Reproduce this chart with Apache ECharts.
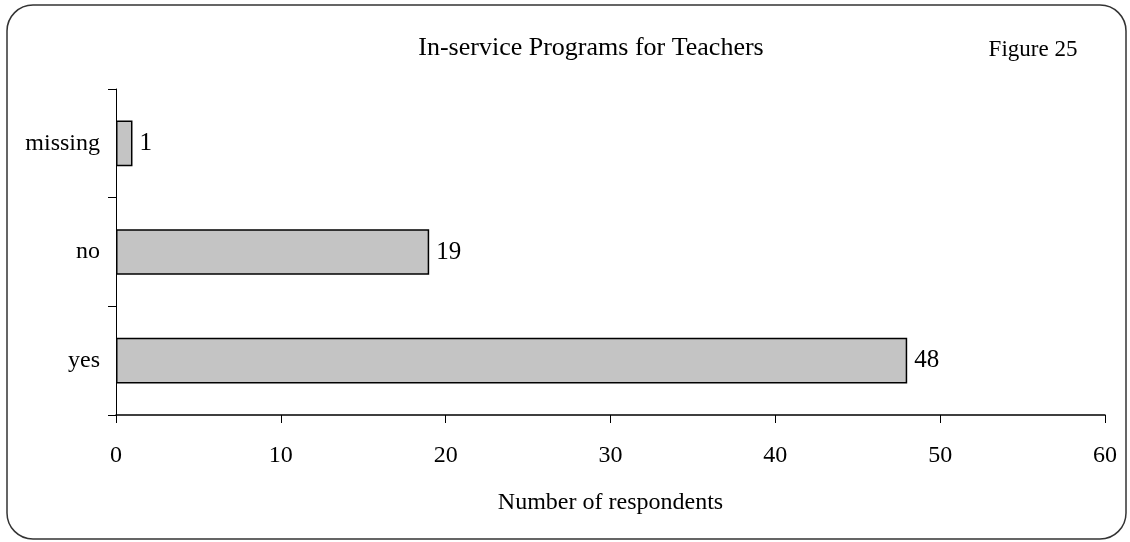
<!DOCTYPE html>
<html>
<head>
<meta charset="utf-8">
<script src="https://cdn.jsdelivr.net/npm/echarts@6/dist/echarts.min.js"></script>
<style>
    html, body { margin: 0; padding: 0; background: #fff; }
    #chart { width: 1130px; height: 542px; }
</style>
</head>
<body>
<div id="chart"></div>
<script>
// Dados do gráfico
const categories = ['yes', 'no', 'missing'];
const values = [48, 19, 1];
const xTicks = [0, 10, 20, 30, 40, 50, 60];

const chartDom = document.getElementById('chart');
const myChart = echarts.init(chartDom);

const serif = '"Liberation Serif", "DejaVu Serif", serif';

const option = {
    animation: false,
    textStyle: { fontFamily: serif, color: '#000' },
    title: [{
        text: 'In-service Programs for Teachers',
        left: 586,
        top: 30,
        textAlign: 'center',
        textStyle: { fontFamily: serif, fontSize: 26, fontWeight: 'normal', color: '#000' }
    }, {
        text: 'Figure 25',
        left: 1028,
        top: 33,
        textAlign: 'center',
        textStyle: { fontFamily: serif, fontSize: 23, fontWeight: 'normal', color: '#000' }
    }],
    graphic: [{
        type: 'rect',
        shape: { x: 7, y: 5, width: 1119, height: 534, r: 26 },
        style: { fill: 'none', stroke: '#333', lineWidth: 1.5 }
    }],
    grid: { left: 116, right: 25, top: 89, bottom: 127, containLabel: false, outerBoundsMode: 'none' },
    xAxis: {
        type: 'value',
        min: xTicks[0],
        max: xTicks[xTicks.length - 1],
        interval: 10,
        name: 'Number of respondents',
        nameLocation: 'middle',
        nameGap: 76,
        nameTextStyle: { fontFamily: serif, fontSize: 24, color: '#000' },
        axisLine: { show: true, lineStyle: { color: '#000', width: 1.5 } },
        axisTick: { show: true, inside: false, length: 8, lineStyle: { color: '#000' } },
        axisLabel: { fontFamily: serif, fontSize: 24, color: '#000', margin: 29 },
        splitLine: { show: false }
    },
    yAxis: {
        type: 'category',
        data: categories,
        axisLine: { show: true, lineStyle: { color: '#000', width: 1 } },
        axisTick: { show: true, length: 8, lineStyle: { color: '#000' } },
        axisLabel: { fontFamily: serif, fontSize: 24, color: '#000', margin: 16 }
    },
    series: [{
        type: 'bar',
        data: values,
        barWidth: '42%',
        itemStyle: { color: '#c4c4c4', borderColor: '#000', borderWidth: 1.5 },
        label: {
            show: true,
            position: 'right',
            distance: 7,
            fontFamily: serif,
            fontSize: 25,
            color: '#000'
        }
    }]
};

myChart.setOption(option);
</script>
</body>
</html>
